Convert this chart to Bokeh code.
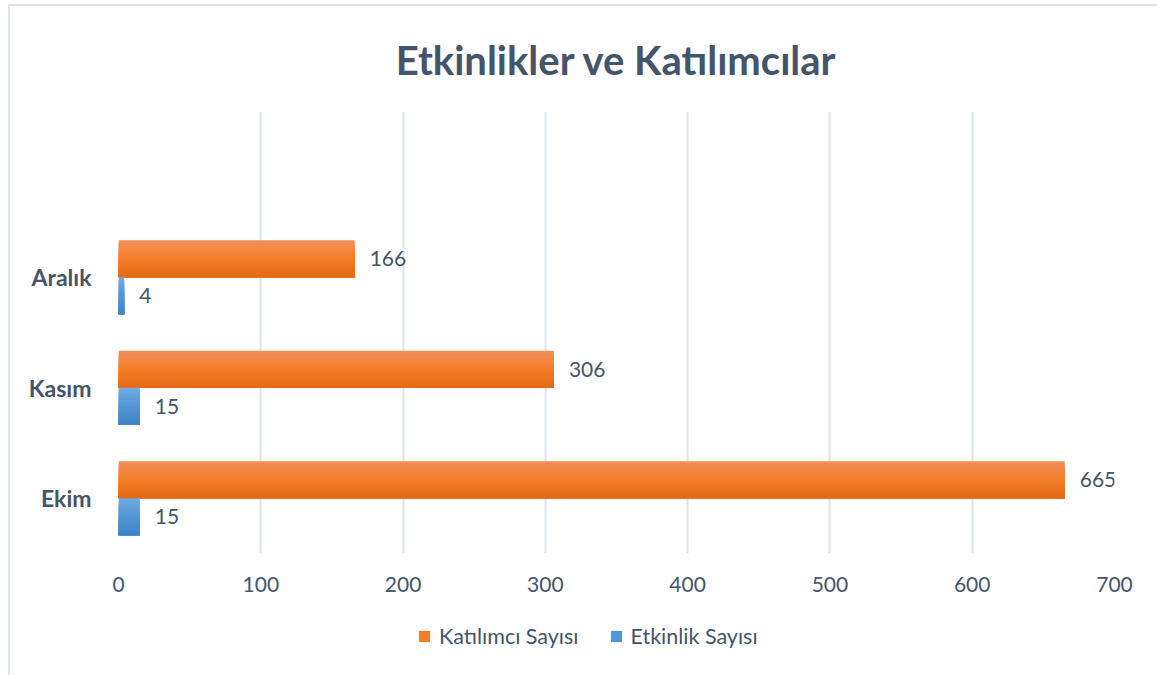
from bokeh.plotting import figure
from bokeh.models import ColumnDataSource, FixedTicker, Legend, LegendItem, FactorRange, Range1d
from bokeh.layouts import column
from bokeh.transform import dodge
from bokeh.core.properties import value
from bokeh.embed import file_html
from bokeh.resources import INLINE

# ---- data ----
categories = ["Ekim", "Kasım", "Aralık", " "]
months = ["Ekim", "Kasım", "Aralık"]
katilimci = [665, 306, 166]
etkinlik = [15, 15, 4]
x_ticks = [0, 100, 200, 300, 400, 500, 600, 700]
title_text = "Etkinlikler ve Katılımcılar"
series_names = ["Katılımcı Sayısı", "Etkinlik Sayısı"]

TXT = "#44546A"
FONT = "Lato"

src = ColumnDataSource(dict(
    cat=months, k=katilimci, e=etkinlik,
    kl=[str(v) for v in katilimci], el=[str(v) for v in etkinlik],
))

p = figure(width=1147, height=601, y_range=FactorRange(factors=categories),
           x_range=(0, 700), output_backend="svg", toolbar_location=None,
           min_border_left=108, min_border_right=43, min_border_top=104,
           min_border_bottom=54)
p.outline_line_color = None
p.background_fill_color = "white"
p.border_fill_color = "white"

p.title.text = title_text
p.title.align = "center"
p.title.text_font = FONT
p.title.text_font_size = "40px"
p.title.text_color = TXT
p.title.text_font_style = "bold"
p.title.standoff = 55

# gradient helper
def lerp(c1, c2, t):
    a = [int(c1[i:i+2], 16) for i in (1, 3, 5)]
    b = [int(c2[i:i+2], 16) for i in (1, 3, 5)]
    return "#%02x%02x%02x" % tuple(round(a[j] + (b[j] - a[j]) * t) for j in range(3))

def grad(stops, t):
    if t <= 0.5:
        return lerp(stops[0], stops[1], t / 0.5)
    return lerp(stops[1], stops[2], (t - 0.5) / 0.5)

BAR_H = 0.334
N = 14
orange_stops = ["#F28E5A", "#F47D27", "#E36915"]
blue_stops = ["#70A9E0", "#5396D6", "#3E84C9"]

for key, stops, base in [("k", orange_stops, 0.0), ("e", blue_stops, -BAR_H)]:
    for i in range(N):
        t = (i + 0.5) / N
        h = BAR_H * (N - i) / N          # slice runs from its top down to bar bottom
        off = base + h / 2
        p.hbar(y=dodge("cat", off, range=p.y_range), right=key, left=0,
               height=h, source=src, fill_color=grad(stops, t), line_color=None)

# data labels
p.text(x="k", y=dodge("cat", BAR_H / 2, range=p.y_range), text="kl", source=src,
       x_offset=15, text_baseline="middle", text_align="left",
       text_font=value(FONT), text_font_size="21px", text_color=TXT)
p.text(x="e", y=dodge("cat", -BAR_H / 2, range=p.y_range), text="el", source=src,
       x_offset=15, text_baseline="middle", text_align="left",
       text_font=value(FONT), text_font_size="21px", text_color=TXT)

# axes
p.xaxis.ticker = FixedTicker(ticks=x_ticks)
p.xaxis.axis_line_color = None
p.xaxis.major_tick_line_color = None
p.xaxis.minor_tick_line_color = None
p.xaxis.major_label_text_font = FONT
p.xaxis.major_label_text_font_size = "21px"
p.xaxis.major_label_text_color = TXT
p.xaxis.major_label_standoff = 17

p.yaxis.axis_line_color = None
p.yaxis.major_tick_line_color = None
p.yaxis.major_label_text_font = FONT
p.yaxis.major_label_text_font_size = "23px"
p.yaxis.major_label_text_font_style = "bold"
p.yaxis.major_label_text_color = TXT
p.yaxis.major_label_standoff = 21

p.xgrid.grid_line_color = "#DDE3EB"
p.xgrid.grid_line_width = 2
p.ygrid.grid_line_color = None

# legend strip
nan = float("nan")
pl = figure(width=1147, height=62, output_backend="svg", toolbar_location=None,
            x_range=Range1d(0, 1), y_range=Range1d(0, 1),
            min_border_left=0, min_border_right=0, min_border_top=0, min_border_bottom=0)
pl.axis.visible = False
pl.grid.grid_line_color = None
pl.outline_line_color = None
ro = pl.hbar(y=[nan], right=[nan], height=0.5, fill_color=orange_stops[1], line_color=None)
rb = pl.hbar(y=[nan], right=[nan], height=0.5, fill_color=blue_stops[1], line_color=None)
legend = Legend(items=[LegendItem(label=series_names[0], renderers=[ro]),
                       LegendItem(label=series_names[1], renderers=[rb])],
                orientation="horizontal", location=(299, 20),
                label_text_font=FONT, label_text_font_size="21.5px",
                label_text_color=TXT, glyph_width=14, glyph_height=14,
                spacing=30, label_standoff=8, border_line_color=None,
                background_fill_alpha=0, margin=0, padding=4)
pl.add_layout(legend, "center")

layout = column(p, pl, spacing=0,
                styles={"margin-left": "8px", "margin-top": "4px", "padding-bottom": "6px",
                        "border-left": "2px solid #DDE3EB", "border-top": "2px solid #DDE3EB"})

open("out.html", "w").write(file_html(layout, INLINE))
